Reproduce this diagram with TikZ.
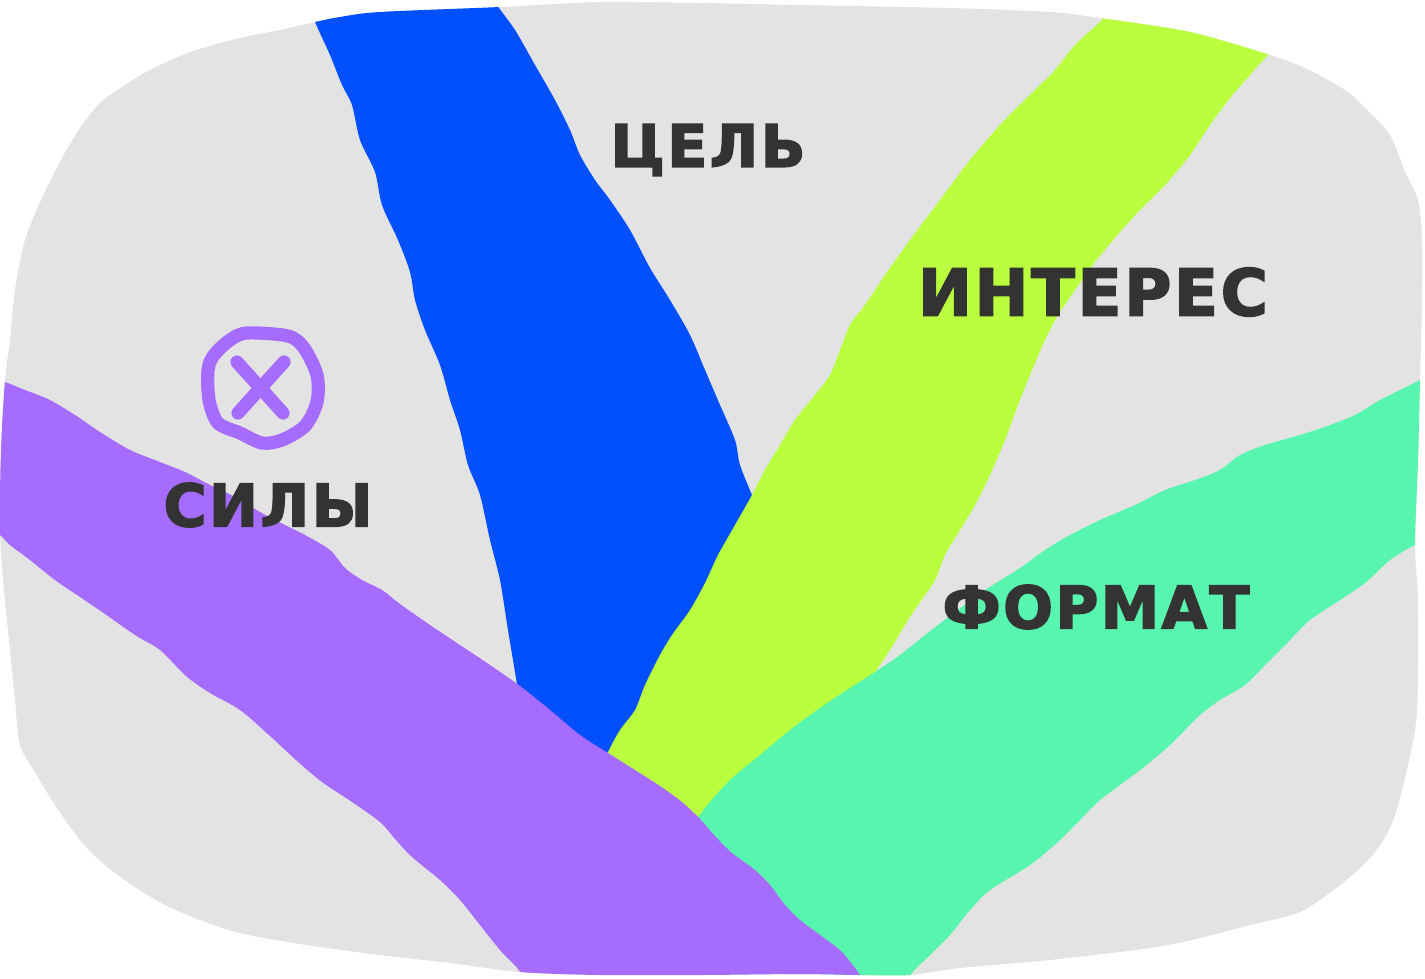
\documentclass[tikz,border=0pt]{standalone}
\usepackage{fontspec}
\usepackage{graphicx}
\newfontfamily\hand[LetterSpace=4, BoldFeatures={FakeBold=2.5}]{DejaVu Sans}
\definecolor{bggray}{HTML}{E3E3E3}
\definecolor{sblue}{HTML}{0050FF}
\definecolor{sgreen}{HTML}{BAFF3D}
\definecolor{steal}{HTML}{57F5AE}
\definecolor{spurple}{HTML}{A66BFF}
\definecolor{ink}{HTML}{333333}
\tikzset{
  lbl/.style={inner sep=0pt, text=ink, font=\hand\bfseries},
  iconline/.style={draw=spurple, line width=7.5pt, line cap=round, line join=round}
}
\begin{document}
\begin{tikzpicture}[x=0.02cm, y=-0.02cm]
\useasboundingbox (0,0) rectangle (1425,978);
\begin{scope}
\path[clip] plot[smooth cycle] coordinates {
 (315,22)(280,30)(240,38)(190,52)(150,70)(125,85)(100,103)(80,128)(62,158)(42,198)(25,240)(15,290)(10,340)(5,380)
 (1,450)(0,530)(4,590)(10,650)(15,700)(20,745)(35,772)(55,805)(80,840)(105,865)(135,887)(165,905)(200,920)(240,933)
 (300,944)(380,955)(450,963)(520,972)(600,975)(700,975)(800,974)(860,975)(910,975)(960,968)(1050,960)(1150,948)
 (1200,938)(1250,925)(1300,912)(1340,885)(1370,858)(1390,828)(1402,790)(1415,730)(1418,680)(1418,600)(1415,545)
 (1418,460)(1420,380)(1422,300)(1422,240)(1418,200)(1405,172)(1390,135)(1365,108)(1345,90)(1305,68)(1270,55)
 (1190,32)(1100,18)(1050,12)(950,8)(800,5)(700,3)(600,2)(500,7)(380,12)(340,17)};
\fill[bggray] (-20,-20) rectangle (1445,1000);
% blue stripe
\fill[sblue] plot[smooth] coordinates {(305,-5)(315,22)(330,55)(342,85)(352,105)(360,140)(375,172)(382,205)(398,240)(410,272)(415,300)(425,330)(440,365)(450,400)(460,430)(468,465)(480,495)(490,540)(500,580)(508,630)(518,690)}
 -- (560,760) -- (640,760) -- (700,600) -- (770,480)
 -- plot[smooth] coordinates {(752,495)(740,465)(735,440)(720,405)(705,370)(690,335)(670,300)(650,268)(630,230)(610,200)(595,180)(580,155)(570,130)(555,100)(535,65)(515,30)(497,5)(490,-10)} -- cycle;
% green stripe
\fill[sgreen] plot[smooth] coordinates {(1115,5)(1100,22)(1075,45)(1055,70)(1035,90)(1000,125)(970,160)(940,200)(910,240)(885,275)(865,305)(850,325)(840,350)(830,375)(815,395)(795,420)(780,445)(765,470)(752,495)(735,525)(718,555)(705,583)(690,610)(672,635)(660,655)(645,685)(635,710)(620,730)(608,752)(598,775)}
 -- (700,860) -- (900,700)
 -- plot[smooth] coordinates {(875,672)(890,650)(905,625)(918,605)(935,580)(945,555)(960,530)(975,505)(990,475)(1005,440)(1018,405)(1030,375)(1045,340)(1058,315)(1075,290)(1095,262)(1120,232)(1140,210)(1165,185)(1190,155)(1210,125)(1230,98)(1250,75)(1268,55)(1290,35)} -- cycle;
% teal stripe
\fill[steal] plot[smooth] coordinates {(1440,370)(1420,380)(1400,390)(1380,400)(1355,415)(1330,425)(1300,435)(1265,445)(1240,455)(1220,470)(1195,480)(1165,490)(1135,505)(1100,520)(1070,535)(1045,550)(1020,568)(985,590)(955,612)(925,635)(900,655)(875,672)(850,688)(820,708)(790,730)(760,755)(730,780)(705,808)(690,830)}
 -- (800,1000) -- (900,1000)
 -- plot[smooth] coordinates {(905,990)(910,975)(930,955)(950,935)(970,910)(990,890)(1030,865)(1060,840)(1080,820)(1100,800)(1140,770)(1170,745)(1200,715)(1220,700)(1245,685)(1265,665)(1290,640)(1310,620)(1340,600)(1365,583)(1390,560)(1415,545)(1440,538)} -- cycle;
% purple stripe
\fill[spurple] plot[smooth] coordinates {(-15,376)(5,382)(25,390)(50,400)(75,415)(100,432)(130,450)(160,462)(185,472)(210,485)(235,497)(260,512)(285,525)(305,535)(330,550)(345,568)(362,580)(382,590)(400,604)(430,625)(460,645)(490,665)(520,686)(550,710)(580,735)(608,753)(635,770)(660,786)(682,802)(700,819)(715,836)(732,853)(755,870)(770,885)(785,905)(800,920)(820,935)(842,952)(860,975)(872,995)}
 -- (500,1000)
 -- plot[smooth] coordinates {(515,985)(520,972)(500,950)(480,925)(460,900)(440,880)(412,857)(396,840)(380,822)(352,802)(322,782)(296,760)(270,736)(240,710)(210,693)(186,676)(160,650)(135,635)(105,614)(80,597)(55,580)(30,560)(10,545)(0,535)(-15,528)} -- cycle;
\end{scope}
% icon
\draw[iconline] plot[smooth cycle] coordinates {(247,333)(288,336)(304,348)(317,375)(317,402)(305,426)(282,440)(262,443)(240,433)(218,423)(209,400)(208,370)(214,355)(230,340)};
\draw[iconline] (237,362) -- (283,413);
\draw[iconline] (284,362) -- (238,413);
% labels
\node[lbl] (cel) at (708,150) {\resizebox{3.9cm}{!}{ЦЕЛЬ}};
\node[lbl] (interes) at (1093,292) {\resizebox{7.0cm}{!}{ИНТЕРЕС}};
\node[lbl] (format) at (1096,607) {\resizebox{6.14cm}{!}{ФОРМАТ}};
\node[lbl] (sily) at (268,505) {\resizebox{4.18cm}{!}{СИЛЫ}};
\end{tikzpicture}
\end{document}
